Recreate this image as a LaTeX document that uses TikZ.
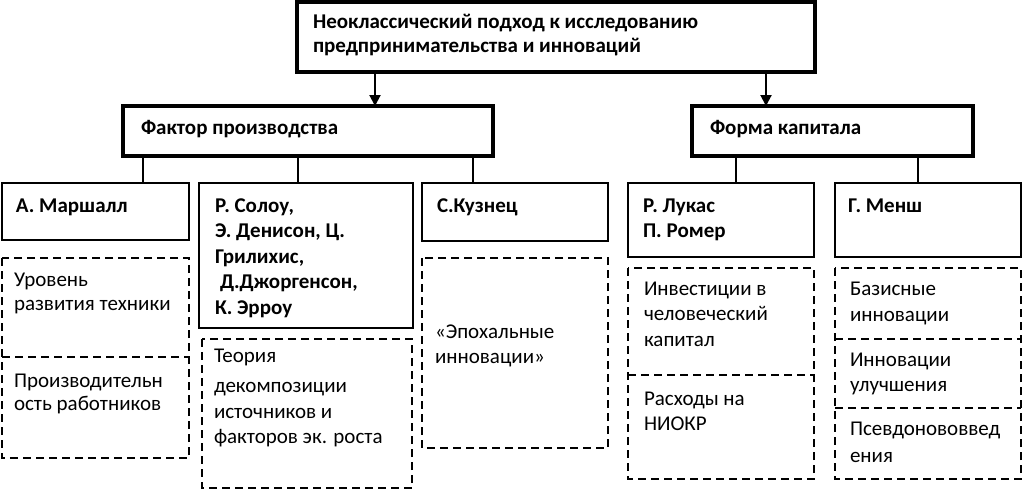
\documentclass[tikz,border=0pt]{standalone}
\usepackage{fontspec}
\setmainfont{Carlito}
\usetikzlibrary{arrows.meta}
\newcommand\tlines[2]{\parbox[t]{520pt}{\raggedright\fontsize{21}{#1}\selectfont #2}}
\tikzset{
  thickbox/.style={draw, line width=4.5pt, inner sep=0pt, outer sep=0pt, anchor=north west},
  thinbox/.style={draw, line width=1.5pt, inner sep=0pt, outer sep=0pt, anchor=north west},
  cell/.style={inner sep=0pt, outer sep=0pt, anchor=north west},
  dashline/.style={line width=2pt, dash pattern=on 8pt off 5pt},
  txt/.style={anchor=base west, inner sep=0pt, outer sep=0pt},
  btxt/.style={txt, font=\bfseries},
  conn/.style={line width=1.5pt},
  arr/.style={line width=2pt, -{Triangle[width=11pt,length=11pt]}}
}
\begin{document}
\begin{tikzpicture}[x=1pt,y=-1pt]
\useasboundingbox[fill=white] (0,0) rectangle (1025,490);
% main boxes
\node[thickbox, minimum width=518pt, minimum height=70pt] (top) at (297,2) {};
\node[thickbox, minimum width=370pt, minimum height=50pt] (factor) at (123,106) {};
\node[thickbox, minimum width=281pt, minimum height=50pt] (form) at (692,106) {};
% author boxes
\node[thinbox, minimum width=187pt, minimum height=57pt] (marsh) at (2,183) {};
\node[thinbox, minimum width=214pt, minimum height=145pt] (solow) at (199,183) {};
\node[thinbox, minimum width=186pt, minimum height=58pt] (kuz) at (422,183) {};
\node[thinbox, minimum width=186pt, minimum height=74pt] (lukas) at (628,183) {};
\node[thinbox, minimum width=186pt, minimum height=74pt] (mensh) at (835,183) {};
% dashed cells
\node[cell, minimum width=187pt, minimum height=99pt] (m1) at (2,258) {};
\node[cell, minimum width=187pt, minimum height=101pt] (m2) at (2,357) {};
\node[cell, minimum width=210pt, minimum height=149pt] (s1) at (202,339) {};
\node[cell, minimum width=186pt, minimum height=190pt] (k1) at (422,258) {};
\node[cell, minimum width=186pt, minimum height=107pt] (l1) at (628,268) {};
\node[cell, minimum width=186pt, minimum height=104pt] (l2) at (628,375) {};
\node[cell, minimum width=186pt, minimum height=71pt] (n1) at (835,268) {};
\node[cell, minimum width=186pt, minimum height=69pt] (n2) at (835,339) {};
\node[cell, minimum width=186pt, minimum height=71pt] (n3) at (835,408) {};
\draw[dashline] (m1.north west) rectangle (m2.south east);
\draw[dashline] (m2.north west) -- (m2.north east);
\draw[dashline] (s1.north west) rectangle (s1.south east);
\draw[dashline] (k1.north west) rectangle (k1.south east);
\draw[dashline] (l1.north west) rectangle (l2.south east);
\draw[dashline] (l2.north west) -- (l2.north east);
\draw[dashline] (n1.north west) rectangle (n3.south east);
\draw[dashline] (n2.north west) -- (n2.north east);
\draw[dashline] (n3.north west) -- (n3.north east);
% arrows
\coordinate (a1) at (375,0);
\coordinate (a2) at (766,0);
\draw[arr] (top.south -| a1) -- (factor.north -| a1);
\draw[arr] (top.south -| a2) -- (form.north -| a2);
% connectors
\coordinate (c1) at (143,0);
\coordinate (c2) at (298,0);
\coordinate (c3) at (473,0);
\coordinate (c4) at (736,0);
\coordinate (c5) at (918,0);
\draw[conn] (factor.south -| c1) -- (marsh.north -| c1);
\draw[conn] (factor.south -| c2) -- (solow.north -| c2);
\draw[conn] (factor.south -| c3) -- (kuz.north -| c3);
\draw[conn] (form.south -| c4) -- (lukas.north -| c4);
\draw[conn] (form.south -| c5) -- (mensh.north -| c5);
% texts
\node[btxt] (ttop) at (313,28) {\tlines{24pt}{Неоклассический подход к исследованию\\предпринимательства и инноваций}};
\node[btxt] (tfactor) at (141,134) {\tlines{24pt}{Фактор производства}};
\node[btxt] (tform) at (710,134) {\tlines{24pt}{Форма капитала}};
\node[btxt] (tmarsh) at (16,212) {\tlines{24pt}{А. Маршалл}};
\node[btxt] (tsolow) at (215,212) {\tlines{25.5pt}{Р. Солоу,\\Э. Денисон, Ц.\\Грилихис,\\\hspace*{5pt}Д.Джоргенсон,\\К. Эрроу}};
\node[btxt] (tkuz) at (437,212) {\tlines{24pt}{С.Кузнец}};
\node[btxt] (tlukas) at (643,212) {\tlines{25pt}{Р. Лукас\\П. Ромер}};
\node[btxt] (tmensh) at (848,212) {\tlines{24pt}{Г. Менш}};
\node[txt] (tm1) at (14,286) {\tlines{24pt}{Уровень\\развития техники}};
\node[txt] (tm2) at (14,387) {\tlines{23pt}{Производительн\\ость работников}};
\node[txt] (ts1) at (214,362) {\tlines{25.5pt}{Теория\\[5pt]декомпозиции\\источников и\\факторов эк. роста}};
\node[txt] (tk1) at (435,338) {\tlines{25pt}{«Эпохальные\\инновации»}};
\node[txt] (tl1) at (644,295) {\tlines{25.5pt}{Инвестиции в\\человеческий\\капитал}};
\node[txt] (tl2) at (644,405) {\tlines{25pt}{Расходы на\\НИОКР}};
\node[txt] (tn1) at (850,295) {\tlines{26pt}{Базисные\\инновации}};
\node[txt] (tn2) at (850,366) {\tlines{25pt}{Инновации\\улучшения}};
\node[txt] (tn3) at (850,435) {\tlines{27pt}{Псевдонововвед\\ения}};
\end{tikzpicture}
\end{document}
